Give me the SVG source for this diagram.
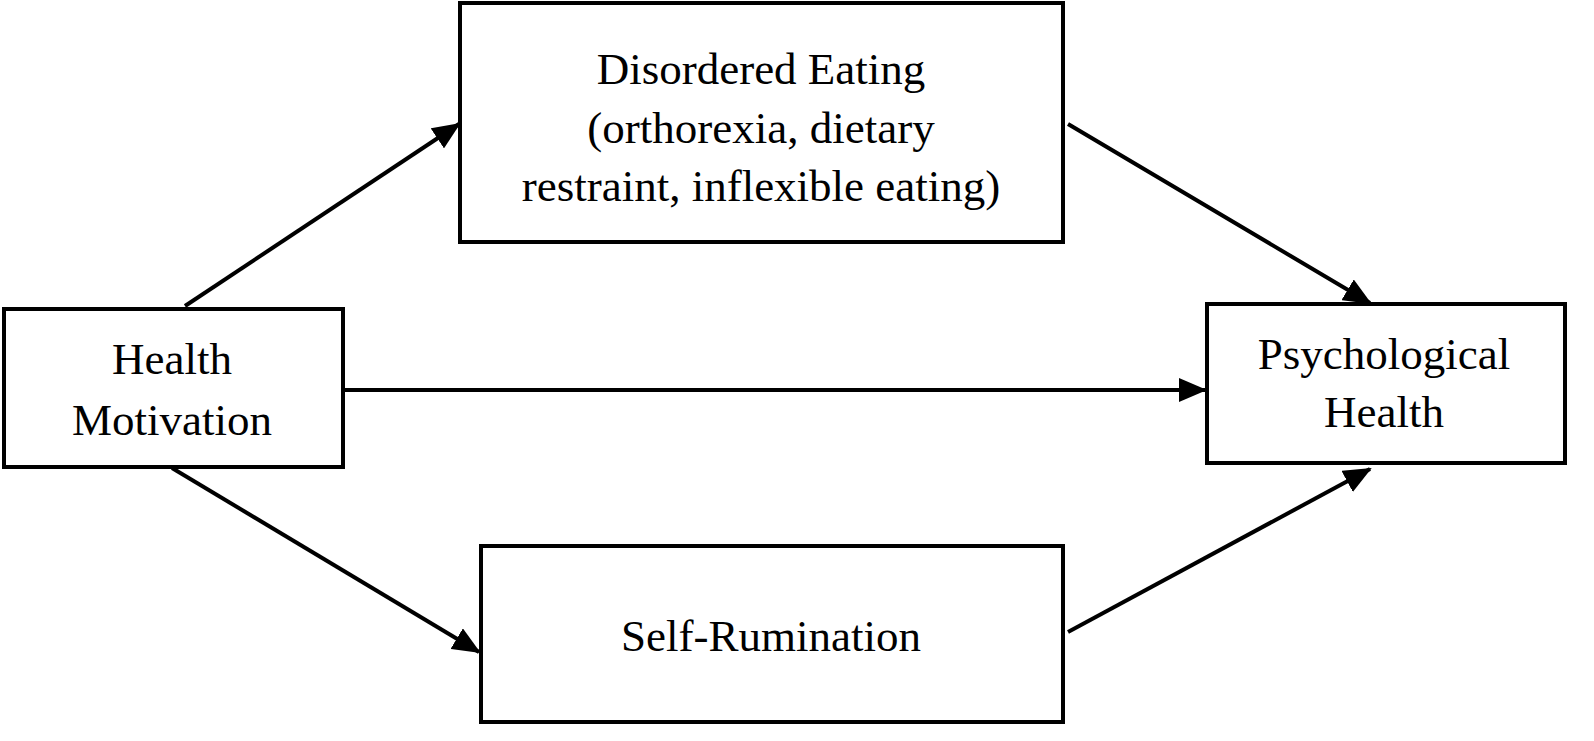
<svg xmlns="http://www.w3.org/2000/svg" width="1594" height="741" viewBox="0 0 1594 741">
<style>
rect{fill:#fff;stroke:#000;stroke-width:4}
text{font-family:"Liberation Serif",serif;font-size:45px;text-anchor:middle;fill:#000}
line{stroke:#000;stroke-width:4}
</style>
<defs><marker id="a" markerWidth="7" markerHeight="6" refX="6.5" refY="3" orient="auto" markerUnits="strokeWidth"><path d="M0,0L7,3L0,6z" fill="#000"/></marker></defs>
<g id="connectors">
<line x1="185" y1="306" x2="459" y2="124" marker-end="url(#a)"/>
<line x1="343" y1="390" x2="1205" y2="390" marker-end="url(#a)"/>
<line x1="1068" y1="124" x2="1370" y2="303" marker-end="url(#a)"/>
<line x1="172" y1="468" x2="479" y2="652" marker-end="url(#a)"/>
<line x1="1068" y1="632" x2="1370" y2="469" marker-end="url(#a)"/>
</g>
<g id="disordered"><rect x="460" y="3" width="603" height="239"/>
<text x="761" y="84">Disordered Eating</text><text x="761" y="143">(orthorexia, dietary</text><text x="761" y="201">restraint, inflexible eating)</text></g>
<g id="health"><rect x="4" y="309" width="339" height="158"/>
<text x="172" y="374">Health</text><text x="172" y="435">Motivation</text></g>
<g id="psych"><rect x="1207" y="304" width="358" height="159"/>
<text x="1384" y="369">Psychological</text><text x="1384" y="427">Health</text></g>
<g id="self"><rect x="481" y="546" width="582" height="176"/>
<text x="771" y="651">Self-Rumination</text></g>
</svg>
